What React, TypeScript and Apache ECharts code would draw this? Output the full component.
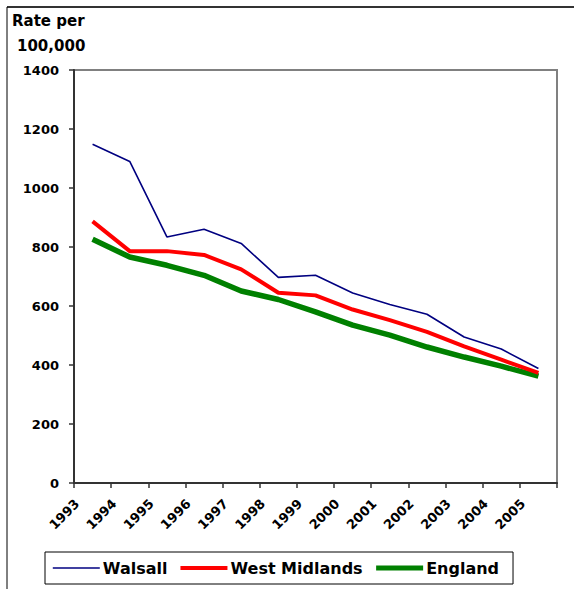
import React, { useEffect, useRef } from "react";
import * as echarts from "echarts";

const years = ["1993", "1994", "1995", "1996", "1997", "1998", "1999", "2000", "2001", "2002", "2003", "2004", "2005"];
const walsall = [1148, 1090, 834, 860, 812, 697, 704, 644, 605, 572, 495, 454, 388];
const westMidlands = [887, 786, 786, 773, 724, 645, 636, 588, 552, 512, 463, 418, 373];
const england = [826, 766, 738, 704, 651, 622, 580, 535, 501, 461, 427, 396, 362];
const yTicks = { min: 0, max: 1400, interval: 200 };

const FONT = "DejaVu Sans";

export default function App() {
  const ref = useRef<HTMLDivElement>(null);
  useEffect(() => {
    if (!ref.current) return;
    const chart = echarts.init(ref.current, undefined, { renderer: "svg" });
    chart.setOption({
      animation: false,
      backgroundColor: "#ffffff",
      textStyle: { fontFamily: FONT },
      grid: {
        left: 74,
        top: 70,
        right: 17,
        bottom: 106,
        show: true,
        borderColor: "#808080",
        borderWidth: 2,
      },
      xAxis: {
        type: "category",
        data: years,
        boundaryGap: true,
        axisLine: { lineStyle: { color: "#333333", width: 2 } },
        axisTick: { show: true, length: 5, lineStyle: { color: "#333333", width: 1.5 } },
        axisLabel: {
          rotate: 45,
          interval: 0,
          margin: 3,
          padding: [0, 22, 0, 0],
          color: "#000",
          fontFamily: FONT,
          fontWeight: "bold",
          fontSize: 13,
        },
        splitLine: { show: false },
      },
      yAxis: {
        type: "value",
        min: yTicks.min,
        max: yTicks.max,
        interval: yTicks.interval,
        axisLine: { show: true, lineStyle: { color: "#333333", width: 2 } },
        axisTick: { show: true, length: 5, lineStyle: { color: "#333333", width: 1.5 } },
        axisLabel: {
          margin: 15,
          color: "#000",
          fontFamily: FONT,
          fontWeight: "bold",
          fontSize: 13,
          formatter: (v: number) => String(v),
        },
        splitLine: { show: false },
      },
      legend: {
        left: 45,
        top: 552,
        orient: "horizontal",
        borderColor: "#000",
        borderWidth: 1,
        padding: [8, 14, 8, 7],
        itemWidth: 47,
        itemHeight: 12,
        itemGap: 11,
        itemStyle: { opacity: 0 },
        textStyle: { color: "#000", fontFamily: FONT, fontWeight: "bold", fontSize: 16, padding: [0, 0, 0, -2] },
        data: [
          { name: "Walsall", lineStyle: { width: 1.6 } },
          { name: "West Midlands", lineStyle: { width: 4 } },
          { name: "England", lineStyle: { width: 5 } },
        ],
      },
      series: [
        {
          name: "Walsall",
          type: "line",
          data: walsall,
          symbol: "none",
          lineStyle: { color: "#000080", width: 1.6 },
          itemStyle: { color: "#000080" },
          z: 4,
        },
        {
          name: "West Midlands",
          type: "line",
          data: westMidlands,
          symbol: "none",
          lineStyle: { color: "#ff0000", width: 4 },
          itemStyle: { color: "#ff0000" },
          z: 3,
        },
        {
          name: "England",
          type: "line",
          data: england,
          symbol: "none",
          lineStyle: { color: "#008000", width: 5.5 },
          itemStyle: { color: "#008000" },
          z: 2,
        },
      ],
      graphic: [
        { type: "line", shape: { x1: 7, y1: 7, x2: 574, y2: 7 }, style: { stroke: "#333333", lineWidth: 2 } },
        { type: "line", shape: { x1: 7, y1: 7, x2: 7, y2: 589 }, style: { stroke: "#000000", lineWidth: 1 } },
        {
          type: "text",
          left: 12,
          top: 13,
          style: { text: "Rate per", fontFamily: FONT, fontWeight: "bold", fontSize: 15, fill: "#000" },
        },
        {
          type: "text",
          left: 17,
          top: 38,
          style: { text: "100,000", fontFamily: FONT, fontWeight: "bold", fontSize: 15, fill: "#000" },
        },
      ],
    });
    return () => chart.dispose();
  }, []);
  return (
    <div
      ref={ref}
      style={{ position: "absolute", left: 0, top: 0, width: 574, height: 589 }}
    />
  );
}
